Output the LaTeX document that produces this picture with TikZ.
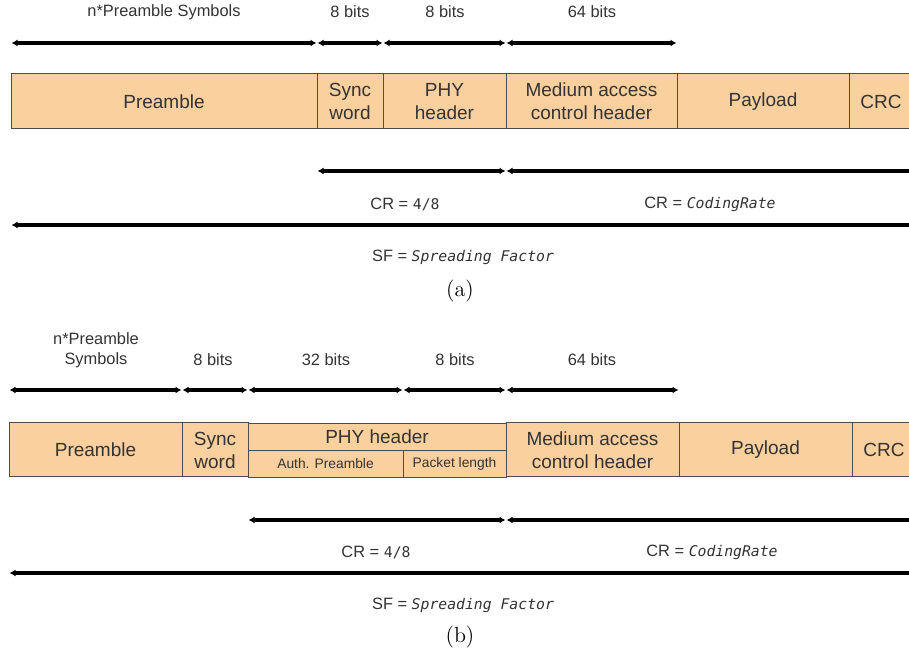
\documentclass[tikz,border=0pt]{standalone}
\usepackage{fontspec}
\setsansfont{Liberation Sans}
\setmonofont[Scale=0.9]{DejaVu Sans Mono}
\usetikzlibrary{arrows.meta}
\definecolor{fieldfill}{HTML}{FBD09F}
\definecolor{labeltext}{HTML}{333333}

\begin{document}
\begin{tikzpicture}[x=0.5pt,y=-0.5pt,
    span/.style={draw=black,line width=2.2pt,
        {Latex[length=3pt,width=3.5pt]}-{Latex[length=3pt,width=3.5pt]},
        shorten <=0.5pt,shorten >=0.5pt},
    openspan/.style={draw=black,line width=2.2pt,
        {Latex[length=3pt,width=3.5pt]}-,shorten <=0.5pt}]
\useasboundingbox (0,0) rectangle (909,656);

% rows of the two panels
\coordinate (bitsA) at (0,43);
\coordinate (crA) at (0,171);
\coordinate (sfA) at (0,225);
\coordinate (bitsB) at (0,390);
\coordinate (crB) at (0,520);
\coordinate (sfB) at (0,573);
\coordinate (cut) at (960,0);

% (a) frame fields
\begin{scope}[every node/.style={draw=black!70,line width=0.5pt,fill=fieldfill,inner sep=0pt,
        minimum height=27.5pt,align=center,text=labeltext,
        font=\sffamily\fontsize{9.5}{11.5}\selectfont}]
    \node (preA) [minimum width=153pt] at (164,101.5) {Preamble};
    \node (syncA) [minimum width=33pt] at (350,101.5) {Sync\\word};
    \node (phyA) [minimum width=61.5pt] at (444.5,101.5) {PHY\\header};
    \node (macA) [minimum width=85.5pt] at (591.5,101.5) {Medium access\\control header};
    \node (payA) [minimum width=86pt] at (763,101.5) {Payload};
    \node (crcA) [minimum width=32pt] at (881,101.5) {CRC};
\end{scope}

% (b) frame fields
\begin{scope}[every node/.style={draw=black!70,line width=0.5pt,fill=fieldfill,inner sep=0pt,
        minimum height=27pt,align=center,text=labeltext,
        font=\sffamily\fontsize{9.5}{11.5}\selectfont}]
    \node (preB) [minimum width=86.5pt] at (95.5,450) {Preamble};
    \node (syncB) [minimum width=33pt] at (215,450) {Sync\\word};
    \node (phyB) [minimum width=129pt,minimum height=13.5pt,anchor=north] at (377,423) {PHY header};
    \node (authB) [minimum width=77.5pt,minimum height=13.5pt,anchor=north,
        font=\sffamily\fontsize{6.9}{8}\selectfont] at (325.5,450) {Auth. Preamble};
    \node (lenB) [minimum width=51.5pt,minimum height=13.5pt,anchor=north,
        font=\sffamily\fontsize{6.9}{8}\selectfont] at (454.5,450) {Packet length};
    \node (macB) [minimum width=86.5pt] at (592.5,450) {Medium access\\control header};
    \node (payB) [minimum width=86.5pt] at (765.5,450) {Payload};
    \node (crcB) [minimum width=32pt] at (884,450) {CRC};
\end{scope}

% texts
\begin{scope}[every node/.style={text=labeltext,align=center,
        font=\sffamily\fontsize{8.2}{10}\selectfont}]
    \node (nsymA) at (164,12) {n*Preamble Symbols};
    \node (sbitsA) at (350,12) {8 bits};
    \node (pbitsA) at (445,12) {8 bits};
    \node (mbitsA) at (592,12) {64 bits};
    \node (crlowA) at (405,204) {CR = \texttt{4/8}};
    \node (crhighA) at (710,204) {CR = \texttt{\itshape CodingRate}};
    \node (sftextA) at (463,257) {SF = \texttt{\itshape Spreading Factor}};
    \node (nsymB) at (96,350) {n*Preamble\\Symbols};
    \node (sbitsB) at (213,360) {8 bits};
    \node (abitsB) at (326,360) {32 bits};
    \node (lbitsB) at (455,360) {8 bits};
    \node (mbitsB) at (592,360) {64 bits};
    \node (crlowB) at (376,552) {CR = \texttt{4/8}};
    \node (crhighB) at (712,552) {CR = \texttt{\itshape CodingRate}};
    \node (sftextB) at (463,605) {SF = \texttt{\itshape Spreading Factor}};
\end{scope}
\node (capA) [font=\fontsize{11}{13}\selectfont] at (460,291) {(a)};
\node (capB) [font=\fontsize{11}{13}\selectfont] at (460,637) {(b)};

% (a) spans
\draw[span] (preA.west |- bitsA) -- (preA.east |- bitsA);
\draw[span] (syncA.west |- bitsA) -- (syncA.east |- bitsA);
\draw[span] (phyA.west |- bitsA) -- (phyA.east |- bitsA);
\draw[span] (macA.west |- bitsA) -- (macA.east |- bitsA);
\draw[span] (syncA.west |- crA) -- (phyA.east |- crA);
\draw[openspan] (macA.west |- crA) -- (cut |- crA);
\draw[openspan] (preA.west |- sfA) -- (cut |- sfA);

% (b) spans
\draw[span] (preB.west |- bitsB) -- (preB.east |- bitsB);
\draw[span] (syncB.west |- bitsB) -- (syncB.east |- bitsB);
\draw[span] (authB.west |- bitsB) -- (authB.east |- bitsB);
\draw[span] (lenB.west |- bitsB) -- (lenB.east |- bitsB);
\draw[span] (macB.west |- bitsB) -- (macB.east |- bitsB);
\draw[span] (phyB.west |- crB) -- (phyB.east |- crB);
\draw[openspan] (macB.west |- crB) -- (cut |- crB);
\draw[openspan] (preB.west |- sfB) -- (cut |- sfB);
\end{tikzpicture}
\end{document}
